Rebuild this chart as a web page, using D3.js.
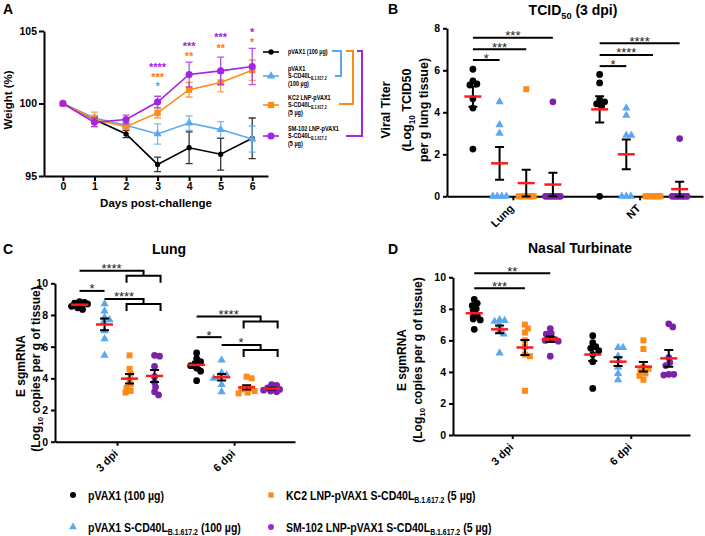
<!DOCTYPE html>
<html><head><meta charset="utf-8">
<script src="https://cdn.jsdelivr.net/npm/d3@7/dist/d3.min.js"></script>
<style>html,body{margin:0;padding:0;background:#fff}svg{display:block}</style>
</head><body>
<svg id="chart" width="705" height="536"></svg>
<script>
// ---------------- DATA ----------------
const seriesLabels = ["pVAX1 (100 µg)", "pVAX1 S-CD40L|B.1.617.2| (100 µg)", "KC2 LNP-pVAX1 S-CD40L|B.1.617.2| (5 µg)", "SM-102 LNP-pVAX1 S-CD40L|B.1.617.2| (5 µg)"];
const legendALabels = [["pVAX1 (100 µg)"], ["pVAX1", "S-CD40L|B.1.617.2", "(100 µg)"], ["KC2 LNP-pVAX1", "S-CD40L|B.1.617.2", " (5 µg)"], ["SM-102 LNP-pVAX1", "S-CD40L|B.1.617.2", " (5 µg)"]];

// Panel A: body weight
const days = [0, 1, 2, 3, 4, 5, 6];
const weightTicks = [95, 100, 105];
const weightPVAX1 = [100, 98.9, 97.9, 95.8, 96.95, 96.5, 97.6];
const weightPVAX1Err = [0, 0.2, 0.25, 0.5, 1.1, 1.1, 1.4];
const weightSCD40L = [100, 99.0, 98.5, 97.9, 98.65, 98.2, 97.55];
const weightSCD40LErr = [0, 0.2, 0.2, 0.7, 0.5, 0.55, 0.9];
const weightKC2 = [100, 98.9, 98.4, 99.35, 100.95, 101.45, 102.3];
const weightKC2Err = [0, 0.5, 0.2, 0.35, 0.5, 0.65, 0.7];
const weightSM102 = [100, 98.7, 98.9, 100.1, 102.0, 102.25, 102.55];
const weightSM102Err = [0, 0.3, 0.3, 0.4, 0.85, 0.95, 1.25];
const weightStars = [
  {day: 3, s: 3, label: "****", y: 102.66}, {day: 3, s: 2, label: "***", y: 101.97}, {day: 3, s: 1, label: "*", y: 101.34},
  {day: 4, s: 3, label: "***", y: 104.1}, {day: 4, s: 2, label: "**", y: 103.41},
  {day: 5, s: 3, label: "***", y: 104.72}, {day: 5, s: 2, label: "**", y: 103.97},
  {day: 6, s: 3, label: "*", y: 105.07}, {day: 6, s: 2, label: "*", y: 104.38}
];

// Panel B: TCID50
const titerGroups = ["Lung", "NT"];
const titerTicks = [0, 2, 4, 6, 8];
const titerLung = [[6.05, 5.5, 5.35, 5.3, 4.65, 4.2, 2.25], [4.5, 3.4, 3.0, 0, 0, 0, 0], [5.1, 0, 0, 0, 0, 0, 0, 0], [4.5, 0, 0, 0, 0, 0, 0, 0]];
const titerLungMean = [4.75, 1.57, 0.63, 0.56];
const titerLungSem = [0.48, 0.78, 0.64, 0.56];
const titerNT = [[5.8, 5.4, 4.6, 4.5, 4.4, 4.3, 0], [4.2, 3.85, 2.9, 2.9, 0, 0, 0], [0, 0, 0, 0, 0, 0, 0, 0], [2.75, 0, 0, 0, 0, 0, 0, 0]];
const titerNTMean = [4.14, 2.0, 0, 0.34];
const titerNTSem = [0.62, 0.71, 0, 0.35];
const titerSig = [
  {g: 0, from: 0, to: [1], y: 6.49, label: "*"}, {g: 0, from: 0, to: [2], y: 7.0, label: "***"}, {g: 0, from: 0, to: [3], y: 7.55, label: "***"},
  {g: 1, from: 0, to: [1], y: 6.2, label: "*"}, {g: 1, from: 0, to: [2], y: 6.73, label: "****"}, {g: 1, from: 0, to: [3], y: 7.29, label: "****"}
];

// Panel C / D: E sgmRNA
const dpiGroups = ["3 dpi", "6 dpi"];
const rnaTicks = [0, 2, 4, 6, 8, 10];
const lung3 = [[8.85, 8.8, 8.75, 8.7, 8.65, 8.55, 8.45, 8.35], [8.7, 8.25, 7.85, 7.7, 7.55, 7.0, 6.5, 5.45], [5.45, 4.6, 4.3, 3.9, 3.6, 3.4, 3.2, 3.1], [5.45, 5.4, 4.75, 4.1, 3.75, 3.45, 3.15, 2.95]];
const lung3Mean = [8.65, 7.4, 3.98, 4.15];
const lung3Sem = [0.07, 0.37, 0.3, 0.38];
const lung6 = [[5.6, 5.25, 5.05, 4.95, 4.8, 4.65, 4.45, 3.85], [5.15, 4.35, 4.2, 4.1, 4.0, 3.6, 3.15], [4.1, 4.0, 3.4, 3.35, 3.3, 3.2, 3.1, 3.05], [3.6, 3.55, 3.4, 3.35, 3.3, 3.25, 3.2, 3.15]];
const lung6Mean = [4.85, 4.07, 3.43, 3.35];
const lung6Sem = [0.19, 0.2, 0.13, 0.06];
const nasal3 = [[8.6, 8.35, 8.2, 8.0, 7.75, 7.55, 7.35, 7.3, 6.7], [7.3, 7.25, 7.2, 6.95, 6.6, 6.4, 5.2], [7.0, 6.75, 6.5, 6.0, 5.6, 5.1, 5.0, 2.8], [6.75, 6.45, 6.4, 6.1, 6.05, 6.0, 5.95, 5.0]];
const nasal3Mean = [7.72, 6.7, 5.55, 6.07];
const nasal3Sem = [0.2, 0.25, 0.48, 0.18];
const nasal6 = [[6.3, 5.85, 5.6, 5.5, 5.35, 5.1, 4.65, 2.95], [5.55, 5.55, 5.0, 4.7, 4.3, 3.9, 3.5], [6.0, 5.45, 4.3, 4.2, 4.05, 3.9, 3.75, 3.5], [7.05, 6.85, 4.9, 4.6, 4.4, 3.85, 3.85, 3.8]];
const nasal6Mean = [5.1, 4.65, 4.33, 4.86];
const nasal6Sem = [0.4, 0.28, 0.3, 0.53];
const lungSig = [
  {g: 0, from: 0, to: [2, 3], y: 10.8, label: "****"}, {g: 0, from: 0, to: [1], y: 9.52, label: "*"}, {g: 0, from: 1, to: [2, 3], y: 9.01, label: "****"},
  {g: 1, from: 0, to: [2, 3], y: 7.9, label: "****"}, {g: 1, from: 0, to: [1], y: 6.6, label: "*"}, {g: 1, from: 1, to: [2, 3], y: 6.11, label: "*"}
];
const nasalSig = [{g: 0, from: 0, to: [3], y: 10.25, label: "**"}, {g: 0, from: 0, to: [2], y: 9.3, label: "***"}];

// ---------------- STYLE ----------------
const colors = ["#000000", "#5aa8f0", "#ff8a17", "#a323e6"];
const dotColors = ["#000000", "#5aa8f0", "#ff8a17", "#7b22a6"];
const starColors = ["#000000", "#4aa3f5", "#ff7a10", "#a323e6"];
const symbols = [d3.symbolCircle, d3.symbolTriangle, d3.symbolSquare, d3.symbolCircle];
const FONT = "Arial, 'Liberation Sans', Helvetica, sans-serif";
const NARROW_SX = 0.81;

const svg = d3.select("#chart").attr("font-family", FONT).attr("font-weight", "bold");

function addRich(t, str, size) {
  const p = str.split("|");
  t.append("tspan").text(p[0]);
  if (p.length > 1) {
    t.append("tspan").attr("font-size", size * 0.66).attr("dy", size * 0.28).text(p[1]);
    if (p[2]) t.append("tspan").attr("font-size", size).attr("dy", -size * 0.28).text(p[2]);
  }
  return t;
}
function label(x, y, str, size, o = {}) {
  const t = svg.append("text").attr("font-size", size)
    .attr("text-anchor", o.anchor || "start").attr("fill", o.fill || "#000");
  if (o.weight) t.attr("font-weight", o.weight);
  if (o.sx) t.attr("x", 0).attr("y", 0).attr("transform", `translate(${x},${y}) scale(${o.sx},1)`);
  else {
    t.attr("x", x).attr("y", y);
    if (o.rotate) t.attr("transform", `rotate(${o.rotate},${x},${y})`);
  }
  return addRich(t, str, size);
}
function styleAxis(g, fs) {
  g.attr("font-family", FONT).attr("font-weight", "bold");
  g.select(".domain").attr("stroke", "#000").attr("stroke-width", 2);
  g.selectAll(".tick line").attr("stroke", "#000").attr("stroke-width", 2);
  g.selectAll(".tick text").attr("font-size", fs).attr("fill", "#000");
}
function rotateTicks(g) {
  g.selectAll(".tick text").attr("x", 0).attr("y", 0).attr("dy", "0.35em")
    .attr("text-anchor", "end").attr("transform", "translate(-1.5,10) rotate(-45)");
}

// panel letters & titles
label(3, 14, "A", 14); label(388, 14, "B", 14); label(3, 254, "C", 14); label(388, 254, "D", 14);
label(573, 15, "TCID|50| (3 dpi)", 14, {anchor: "middle"});
label(169, 254, "Lung", 14, {anchor: "middle"});
label(580, 253, "Nasal Turbinate", 14, {anchor: "middle"});

// ---------------- PANEL A ----------------
const xA = d3.scaleLinear().domain([-0.6, 6.5]).range([44, 268]);
const yA = d3.scaleLinear().domain([95, 105]).range([176, 31]);
styleAxis(svg.append("g").attr("transform", "translate(0,176)")
  .call(d3.axisBottom(xA).tickValues(days).tickSize(5).tickPadding(2).tickSizeOuter(0)), 10.5);
styleAxis(svg.append("g").attr("transform", "translate(44,0)")
  .call(d3.axisLeft(yA).tickValues(weightTicks).tickSize(5).tickPadding(2).tickSizeOuter(0)), 10.5);
label(156, 207, "Days post-challenge", 11.5, {anchor: "middle"});
label(12, 100, "Weight (%)", 11.5, {anchor: "middle", rotate: -90});

const weightSeries = [weightPVAX1, weightSCD40L, weightKC2, weightSM102];
const weightErrs = [weightPVAX1Err, weightSCD40LErr, weightKC2Err, weightSM102Err];
const symSizeA = [22, 30, 40, 40];
weightSeries.forEach((vals, s) => {
  const g = svg.append("g");
  vals.forEach((v, i) => {
    const e = weightErrs[s][i]; if (!e) return;
    const x = xA(days[i]), y1 = yA(v - e), y2 = yA(v + e);
    g.append("path").attr("d", `M${x},${y1}V${y2}M${x - 3.5},${y1}H${x + 3.5}M${x - 3.5},${y2}H${x + 3.5}`)
      .attr("stroke", colors[s]).attr("stroke-opacity", 0.8).attr("stroke-width", 1.3).attr("fill", "none");
  });
  g.append("path").datum(vals).attr("d", d3.line().x((v, i) => xA(days[i])).y(v => yA(v)))
    .attr("stroke", colors[s]).attr("stroke-width", 1.6).attr("fill", "none");
  g.selectAll("path.m").data(vals).join("path").attr("class", "m")
    .attr("transform", (v, i) => `translate(${xA(days[i])},${yA(v)})`)
    .attr("d", d3.symbol(symbols[s], symSizeA[s])).attr("fill", colors[s]);
});
weightStars.forEach(st => {
  label(xA(st.day), yA(st.y) + 6, st.label, 11, {anchor: "middle", fill: starColors[st.s]});
});
// legend A
const legAY = [52, 76, 105, 136];
legendALabels.forEach((lines, s) => {
  const y = legAY[s];
  svg.append("path").attr("d", `M263,${y}H279`).attr("stroke", colors[s]).attr("stroke-width", 1.6);
  svg.append("path").attr("transform", `translate(271,${y})`).attr("d", d3.symbol(symbols[s], symSizeA[s])()).attr("fill", colors[s]);
  const n = lines.length;
  lines.forEach((ln, k) => label(288, y + 2.3 + (k - (n - 1) / 2) * 7.3, ln, 6.8, {sx: NARROW_SX}));
});
const brk = [
  {c: 1, d: "M332,51H341V76H335"},
  {c: 2, d: "M346,51H353V104H339"},
  {c: 3, d: "M357,51H362V136H346"}
];
brk.forEach(b => svg.append("path").attr("d", b.d).attr("fill", "none").attr("stroke", colors[b.c]).attr("stroke-width", 2));

// ---------------- DOT PANELS ----------------
const symSizeDot = [36, 30, 36, 36];
function swarm(vals, y, minD = 4.8, maxO = 8) {
  const n = vals.length, off = new Array(n).fill(0);
  const order = d3.range(n).sort((a, b) => vals[b] - vals[a]);
  const nz = vals.filter(v => v === 0).length; let zi = 0;
  const placed = [];
  for (const i of order) {
    const py = y(vals[i]);
    if (vals[i] === 0 && nz > 1) {
      const step = Math.min(4.5, 15 / (nz - 1));
      off[i] = (zi - (nz - 1) / 2) * step; zi++; placed.push([off[i], py]); continue;
    }
    let bestO = 0, bestD = -1;
    for (let k = 0; k <= 2 * maxO; k++) {
      const o = (k % 2 === 1 ? 1 : -1) * Math.ceil(k / 2);
      const d = placed.length ? d3.min(placed, p => Math.hypot(p[0] - o, p[1] - py)) : Infinity;
      if (d >= minD) { bestO = o; break; }
      if (d > bestD) { bestD = d; bestO = o; }
    }
    off[i] = bestO; placed.push([bestO, py]);
  }
  return off;
}
function dotPanel(o) {
  const x0 = o.x.range()[0];
  const gx = svg.append("g").attr("transform", `translate(0,${o.y.range()[0]})`)
    .call(d3.axisBottom(o.x).tickValues([0, 1]).tickFormat(i => o.groups[i]).tickSize(4).tickPadding(2).tickSizeOuter(0));
  styleAxis(gx, 11); rotateTicks(gx);
  styleAxis(svg.append("g").attr("transform", `translate(${x0},0)`)
    .call(d3.axisLeft(o.y).tickValues(o.ticks).tickSize(4).tickPadding(3).tickSizeOuter(0)), 10.5);
  o.sets.forEach((set, gi) => {
    set.pts.forEach((vals, s) => {
      const cx = o.x(gi) + o.off(s);
      const offs = swarm(vals, o.y);
      vals.forEach((v, i) => svg.append("path").attr("transform", `translate(${cx + offs[i]},${o.y(v)})`)
        .attr("d", d3.symbol(symbols[s], symSizeDot[s])()).attr("fill", dotColors[s]));
    });
    set.pts.forEach((vals, s) => {
      const cx = o.x(gi) + o.off(s), m = set.mean[s], e = set.sem[s];
      if (e > 0) {
        const y1 = o.y(m - e), y2 = o.y(m + e);
        svg.append("path").attr("d", `M${cx},${y1}V${y2}M${cx - 4.5},${y1}H${cx + 4.5}M${cx - 4.5},${y2}H${cx + 4.5}`)
          .attr("stroke", "#000").attr("stroke-width", 2).attr("fill", "none");
      }
      if (m > 0) svg.append("path").attr("d", `M${cx - 8.5},${o.y(m)}H${cx + 8.5}`).attr("stroke", "#ff1a1a").attr("stroke-width", 2.5);
    });
  });
  o.sig.forEach(c => {
    const xs = o.x(c.g) + o.off(c.from), yl = o.y(c.y);
    let xe, d;
    if (c.to.length === 1) { xe = o.x(c.g) + o.off(c.to[0]); d = `M${xs},${yl}H${xe}`; }
    else {
      const xL = o.x(c.g) + o.off(c.to[0]) - 3, xR = o.x(c.g) + o.off(c.to[1]) + 6;
      xe = (xL + xR) / 2;
      d = `M${xs},${yl}H${xe}V${yl + 5}M${xL},${yl + 12}V${yl + 5}H${xR}V${yl + 12}`;
    }
    svg.append("path").attr("d", d).attr("fill", "none").attr("stroke", "#000").attr("stroke-width", 2);
    label((xs + xe) / 2, yl + 2.5, c.label, 13, {anchor: "middle", weight: "normal", fill: "#222"});
  });
}

// Panel B
dotPanel({
  x: d3.scaleLinear().domain([-0.52, 1.5]).range([447, 703]),
  y: d3.scaleLinear().domain([0, 8]).range([196.3, 28.3]),
  off: d3.scalePoint().domain([0, 1, 2, 3]).range([-40, 40]),
  groups: titerGroups, ticks: titerTicks,
  sets: [{pts: titerLung, mean: titerLungMean, sem: titerLungSem}, {pts: titerNT, mean: titerNTMean, sem: titerNTSem}],
  sig: titerSig
});
label(390, 110, "Viral Titer", 12.5, {anchor: "middle", rotate: -90});
label(411, 110, "(Log|10| TCID50", 12.5, {anchor: "middle", rotate: -90});
label(428, 110, "per g lung tissue)", 12.5, {anchor: "middle", rotate: -90});

// Panel C
dotPanel({
  x: d3.scaleLinear().domain([-0.53, 1.52]).range([55, 295]),
  y: d3.scaleLinear().domain([0, 10]).range([441.7, 283.3]),
  off: d3.scalePoint().domain([0, 1, 2, 3]).range([-37.5, 37.5]),
  groups: dpiGroups, ticks: rnaTicks,
  sets: [{pts: lung3, mean: lung3Mean, sem: lung3Sem}, {pts: lung6, mean: lung6Mean, sem: lung6Sem}],
  sig: lungSig
});
label(25, 366, "E sgmRNA", 12, {anchor: "middle", rotate: -90});
label(40, 369, "(Log|10| copies per g of tissue)", 12, {anchor: "middle", rotate: -90});

// Panel D
dotPanel({
  x: d3.scaleLinear().domain([-0.5, 1.5]).range([453, 690]),
  y: d3.scaleLinear().domain([0, 10]).range([435, 277.3]),
  off: d3.scalePoint().domain([0, 1, 2, 3]).range([-38, 38]),
  groups: dpiGroups, ticks: rnaTicks,
  sets: [{pts: nasal3, mean: nasal3Mean, sem: nasal3Sem}, {pts: nasal6, mean: nasal6Mean, sem: nasal6Sem}],
  sig: nasalSig
});
label(406, 360, "E sgmRNA", 12, {anchor: "middle", rotate: -90});
label(422, 360, "(Log|10| copies per g of tissue)", 12, {anchor: "middle", rotate: -90});

// ---------------- BOTTOM LEGEND ----------------
const legPos = [[73, 495], [73, 527], [271, 495], [271, 527]];
seriesLabels.forEach((lab, s) => {
  const [x, y] = legPos[s];
  svg.append("path").attr("transform", `translate(${x},${y})`).attr("d", d3.symbol(symbols[s], s === 1 ? 26 : 28)()).attr("fill", s === 3 ? colors[3] : dotColors[s]);
  label(x + 15, y + 4.5, lab, 13, {sx: NARROW_SX});
});
</script></body></html>
